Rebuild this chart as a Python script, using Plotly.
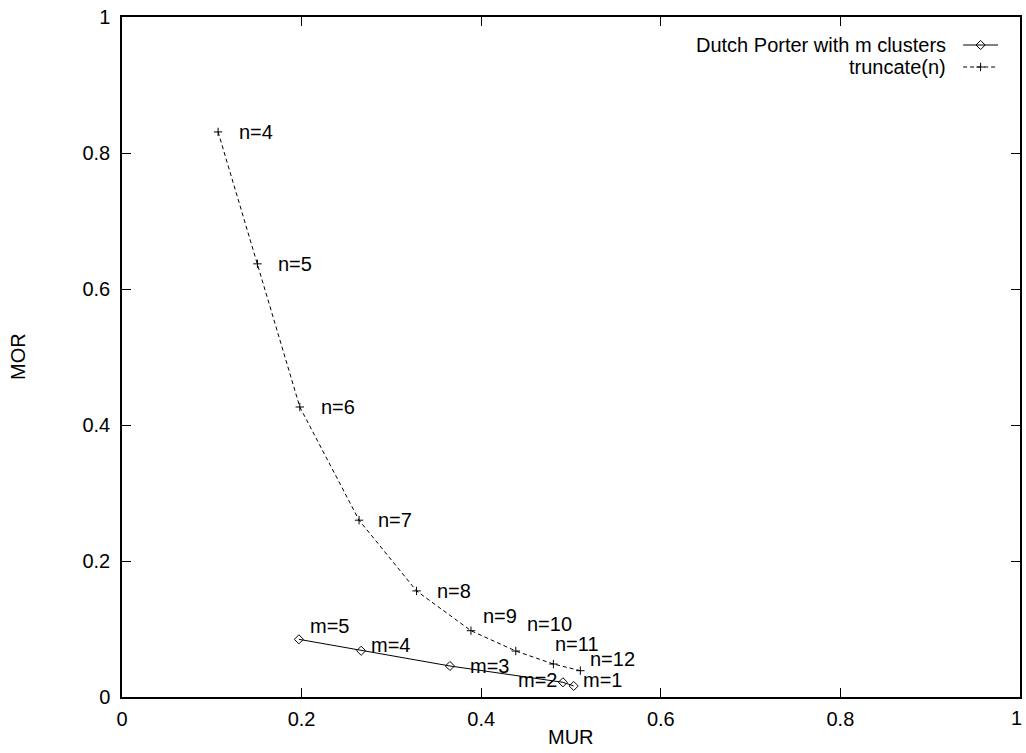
import plotly.graph_objects as go

# ---- data ----
trunc_labels = ["n=4", "n=5", "n=6", "n=7", "n=8", "n=9", "n=10", "n=11", "n=12"]
trunc_mur = [0.1070, 0.1508, 0.1980, 0.2640, 0.3280, 0.3886, 0.4385, 0.4804, 0.5104]
trunc_mor = [0.8310, 0.6370, 0.4265, 0.2600, 0.1560, 0.0975, 0.0676, 0.0485, 0.0387]

dp_labels = ["m=1", "m=2", "m=3", "m=4", "m=5"]
dp_mur = [0.5030, 0.4910, 0.3652, 0.2663, 0.1970]
dp_mor = [0.0162, 0.0216, 0.0456, 0.0680, 0.0848]

x_ticks = [0, 0.2, 0.4, 0.6, 0.8, 1]
x_ticktext = ["0", "0.2", "0.4", "0.6", "0.8", "1"]
y_ticks = [0, 0.2, 0.4, 0.6, 0.8, 1]
y_ticktext = ["0", "0.2", "0.4", "0.6", "0.8", "1"]

series_names = ["Dutch Porter with m clusters", "truncate(n)"]

# ---- styles: label offsets in pixels (dx right, dy up) ----
trunc_label_offsets = [(19, 0), (19, 0), (19, 0), (17, 0), (18, 0), (10, 15), (9, 27), (0, 20), (8, 12)]
dp_label_offsets = [(7, 6), (-47, 2), (18, 0), (8, 6), (9, 13)]

FONT = "Liberation Sans, Arial, Helvetica, sans-serif"
FS = 20

fig = go.Figure()

fig.add_trace(go.Scatter(
    x=dp_mur, y=dp_mor, mode="lines+markers", name=series_names[0],
    line=dict(color="black", width=1),
    marker=dict(symbol="diamond-open", size=7, color="black", line=dict(width=1, color="black")),
    showlegend=False, cliponaxis=False,
))
fig.add_trace(go.Scatter(
    x=trunc_mur, y=trunc_mor, mode="lines+markers", name=series_names[1],
    line=dict(color="black", width=1, dash="4px,3px"),
    marker=dict(symbol="cross-thin", size=6, color="black", line=dict(width=1, color="black")),
    showlegend=False, cliponaxis=False,
))

annotations = []
for lab, x, y, (dx, dy) in zip(trunc_labels, trunc_mur, trunc_mor, trunc_label_offsets):
    annotations.append(dict(x=x, y=y, xref="x", yref="y", text=lab, showarrow=False,
                            xanchor="left", yanchor="middle", xshift=dx, yshift=dy,
                            font=dict(family=FONT, size=FS, color="black")))
for lab, x, y, (dx, dy) in zip(dp_labels, dp_mur, dp_mor, dp_label_offsets):
    annotations.append(dict(x=x, y=y, xref="x", yref="y", text=lab, showarrow=False,
                            xanchor="left", yanchor="middle", xshift=dx, yshift=dy,
                            font=dict(family=FONT, size=FS, color="black")))

# ---- manual gnuplot-style legend (text left, sample right) ----
plot_l, plot_r, plot_t, plot_b = 122, 1022, 17, 697
pw, ph = plot_r - plot_l, plot_b - plot_t
def px(xp):
    return (xp - plot_l) / pw
def py(yp):
    return (plot_b - yp) / ph

legend_rows_y = [45, 67]
text_right = 950
sample_x0, sample_x1 = 965, 1000
shapes = []
for i, name in enumerate(series_names):
    yy = py(legend_rows_y[i])
    annotations.append(dict(x=px(text_right), y=yy, xref="paper", yref="paper", text=name,
                            showarrow=False, xanchor="right", yanchor="middle",
                            font=dict(family=FONT, size=FS, color="black")))
    shapes.append(dict(type="line", xref="paper", yref="paper",
                       x0=px(sample_x0), x1=px(sample_x1), y0=yy, y1=yy,
                       line=dict(color="black", width=1, dash="solid" if i == 0 else "4px,3px")))

mid = px((sample_x0 + sample_x1) / 2)
fig.add_trace(go.Scatter(
    x=[mid], y=[py(legend_rows_y[0])], mode="markers", showlegend=False, hoverinfo="skip",
    marker=dict(symbol="diamond-open", size=7, color="black", line=dict(width=1, color="black")),
    cliponaxis=False,
))
fig.add_trace(go.Scatter(
    x=[mid], y=[py(legend_rows_y[1])], mode="markers", showlegend=False, hoverinfo="skip",
    marker=dict(symbol="cross-thin", size=6, color="black", line=dict(width=1, color="black")),
    cliponaxis=False,
))

# last x tick label drawn as annotation so that it stays inside the page
x_ticktext_axis = x_ticktext[:-1] + [""]
annotations.append(dict(x=x_ticks[-1], y=0, xref="x", yref="paper", text=x_ticktext[-1],
                        showarrow=False, xanchor="right", yanchor="middle", xshift=4, yshift=-21,
                        font=dict(family=FONT, size=FS, color="black")))

# axis titles
annotations.append(dict(x=0.5, y=0, xref="paper", yref="paper", text="MUR", showarrow=False,
                        xanchor="center", yanchor="middle", yshift=-40,
                        font=dict(family=FONT, size=FS, color="black")))
annotations.append(dict(x=0, y=0.5, xref="paper", yref="paper", text="MOR", showarrow=False,
                        xanchor="center", yanchor="middle", xshift=-104, textangle=-90,
                        font=dict(family=FONT, size=FS, color="black")))

axis_common = dict(
    showgrid=False, zeroline=False, showline=True, linecolor="black", linewidth=1.5,
    mirror="allticks", ticks="inside", ticklen=9, tickwidth=1, tickcolor="black",
    tickfont=dict(family=FONT, size=FS, color="black"),
)
fig.update_xaxes(range=[0, 1], tickvals=x_ticks, ticktext=x_ticktext_axis, ticklabelstandoff=3, **axis_common)
fig.update_yaxes(range=[0, 1], tickvals=y_ticks, ticktext=y_ticktext, ticklabelstandoff=6, **axis_common)

fig.update_layout(
    width=1026, height=753,
    margin=dict(l=plot_l, r=1026 - plot_r, t=plot_t, b=753 - plot_b, pad=0),
    plot_bgcolor="white", paper_bgcolor="white",
    annotations=annotations, shapes=shapes,
    font=dict(family=FONT, size=FS, color="black"),
    showlegend=False,
)

fig.write_html("out.html", config={"displayModeBar": False},
               post_script="document.body.style.margin='0';document.body.style.overflow='hidden';")
